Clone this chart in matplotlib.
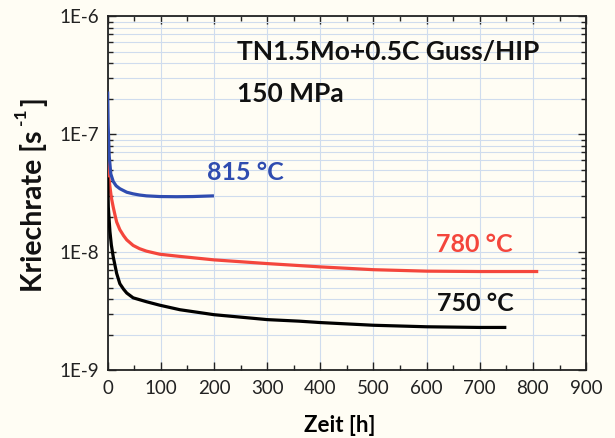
import matplotlib
matplotlib.use("Agg")
import matplotlib.pyplot as plt
from matplotlib.ticker import FixedLocator, LogLocator, FuncFormatter, NullFormatter, MultipleLocator

# Creep rate curves (time in h, creep rate in 1/s)
t_815 = [0, 1, 3, 6, 10.6, 16, 23, 36, 48, 60, 73, 98, 130, 160, 200]
r_815 = [2.3e-7, 1.2e-7, 6.5e-8, 4.6e-8, 3.97e-8, 3.65e-8, 3.45e-8, 3.22e-8,
         3.12e-8, 3.05e-8, 3.0e-8, 2.96e-8, 2.95e-8, 2.96e-8, 3.0e-8]

t_780 = [0, 1, 2.5, 4.3, 7, 10.6, 14, 17, 23, 30, 36, 48, 60, 73, 98, 136,
         200, 300, 400, 500, 600, 700, 810]
r_780 = [6.6e-8, 5.0e-8, 4.2e-8, 3.6e-8, 2.9e-8, 2.4e-8, 2.05e-8, 1.8e-8,
         1.55e-8, 1.38e-8, 1.27e-8, 1.14e-8, 1.07e-8, 1.02e-8, 9.6e-9, 9.2e-9,
         8.6e-9, 8.0e-9, 7.5e-9, 7.1e-9, 6.9e-9, 6.85e-9, 6.85e-9]

t_750 = [0, 1.3, 4.3, 7, 10.6, 17, 23, 30, 36, 48, 73, 98, 136, 200, 300,
         360, 400, 500, 600, 700, 750]
r_750 = [4.3e-8, 2.4e-8, 1.5e-8, 1.15e-8, 9.1e-9, 6.6e-9, 5.4e-9, 4.85e-9,
         4.5e-9, 4.1e-9, 3.8e-9, 3.55e-9, 3.25e-9, 2.95e-9, 2.68e-9, 2.6e-9,
         2.53e-9, 2.4e-9, 2.33e-9, 2.3e-9, 2.3e-9]

series_labels = ["815 °C", "780 °C", "750 °C"]
x_ticks = [0, 100, 200, 300, 400, 500, 600, 700, 800, 900]
y_ticks = [1e-9, 1e-8, 1e-7, 1e-6]
y_tick_labels = ["1E-9", "1E-8", "1E-7", "1E-6"]

title_lines = ["TN1.5Mo+0.5C Guss/HIP", "150 MPa"]

plt.rcParams["font.family"] = ["Lato", "DejaVu Sans"]

bg = "#fffdf4"
blue = "#2f4cb0"
red = "#f4463c"
grid_c = "#cfdcee"

W, H = 615, 438
fig = plt.figure(figsize=(W / 100, H / 100), dpi=100, facecolor=bg)
ax = fig.add_axes([0.175, 0.155, 0.778, 0.808], facecolor=bg)

ax.plot(t_815, r_815, color=blue, lw=2.3, solid_capstyle="butt", zorder=4)
ax.plot(t_780, r_780, color=red, lw=2.3, solid_capstyle="butt", zorder=3)
ax.plot(t_750, r_750, color="black", lw=2.3, solid_capstyle="butt", zorder=3)

ax.set_yscale("log")
ax.set_xlim(0, 900)
ax.set_ylim(1e-9, 1e-6)

ax.xaxis.set_major_locator(FixedLocator(x_ticks))
ax.xaxis.set_minor_locator(MultipleLocator(50))
ax.yaxis.set_major_locator(FixedLocator(y_ticks))
ax.yaxis.set_major_formatter(FuncFormatter(
    lambda v, p: y_tick_labels[y_ticks.index(v)] if v in y_ticks else ""))
ax.yaxis.set_minor_locator(LogLocator(base=10, subs=range(2, 10)))
ax.yaxis.set_minor_formatter(NullFormatter())

ax.grid(True, which="major", axis="x", color=grid_c, lw=0.8, zorder=0)
ax.grid(True, which="both", axis="y", color=grid_c, lw=0.8, zorder=0)

ax.tick_params(which="both", direction="in", top=True, right=True,
               color="#222222", labelsize=13.5, labelcolor="#222222")
ax.tick_params(which="major", length=6, width=1.0)
ax.tick_params(which="minor", length=3.5, width=1.0)
ax.tick_params(axis="y", pad=6)
ax.tick_params(axis="x", pad=7)
for s in ax.spines.values():
    s.set_color("#222222")
    s.set_linewidth(1.3)

ax.set_xlabel("Zeit [h]", fontsize=16, fontweight="bold")
ax.xaxis.set_label_coords(0.486, -0.127)

# y-axis label built from rotated pieces so the exponent stays large
lab_kw = dict(rotation=90, rotation_mode="anchor", ha="left", va="baseline",
              fontweight="bold", color="#111111")
fig.text(42 / W, 1 - 292 / H, "Kriechrate [s", fontsize=20.5, **lab_kw)
fig.text(26 / W, 1 - 125 / H, "-1", fontsize=12.5, **lab_kw)
fig.text(42 / W, 1 - 106 / H, "]", fontsize=20.5, **lab_kw)

ax.text(244, 4.27e-7, title_lines[0], fontsize=19, fontweight="bold",
        va="baseline", ha="left", color="#111111")
ax.text(244, 1.89e-7, title_lines[1], fontsize=19, fontweight="bold",
        va="baseline", ha="left", color="#111111")

ax.text(186, 4.1e-8, series_labels[0], fontsize=18, fontweight="bold",
        va="baseline", ha="left", color=blue)
ax.text(617, 1.0e-8, series_labels[1], fontsize=18, fontweight="bold",
        va="baseline", ha="left", color=red)
ax.text(619, 3.2e-9, series_labels[2], fontsize=18, fontweight="bold",
        va="baseline", ha="left", color="#111111")

fig.savefig("out.png", dpi=100, facecolor=bg)
